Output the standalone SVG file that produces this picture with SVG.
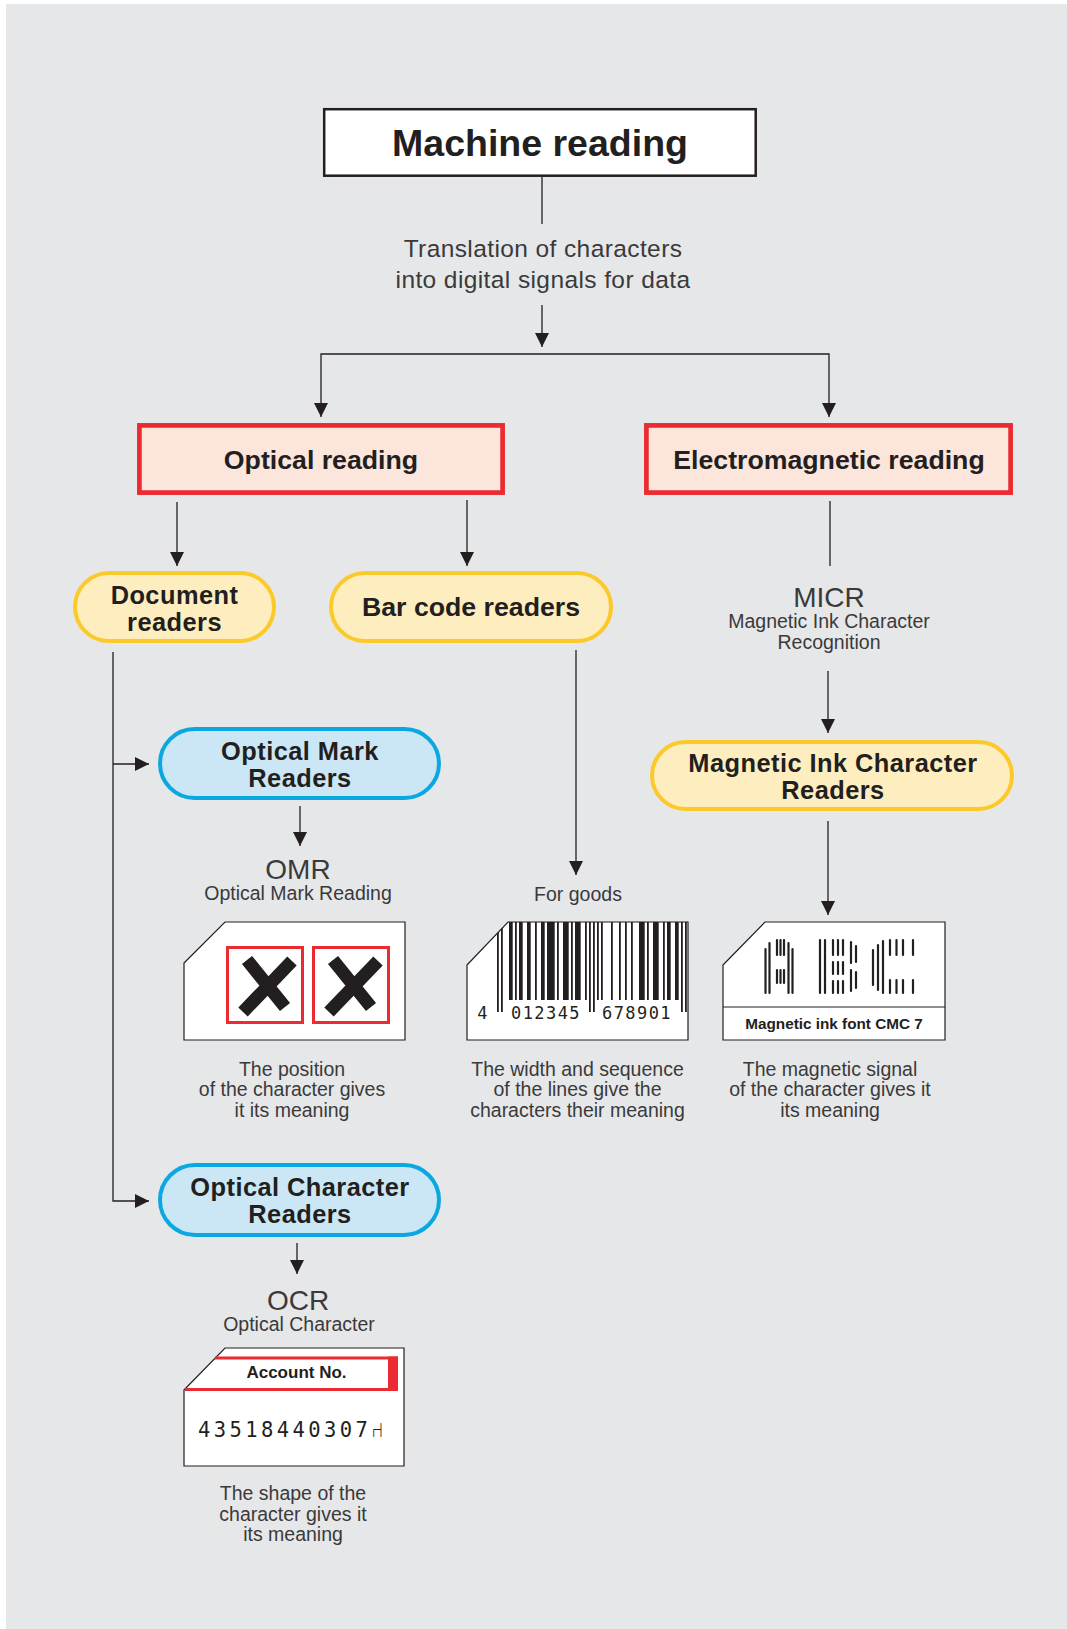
<svg xmlns="http://www.w3.org/2000/svg" width="1067" height="1629" viewBox="0 0 1067 1629">
<style>
.ln{fill:none;stroke:#231f20;stroke-width:1.3}
.lbl{font-family:"Liberation Sans",Arial,Helvetica,sans-serif;font-weight:bold;font-size:26.7px;fill:#231f20;text-anchor:middle}
.lb2{font-family:"Liberation Sans",Arial,Helvetica,sans-serif;font-weight:bold;font-size:25.4px;letter-spacing:0.45px;fill:#231f20;text-anchor:middle}
.lt{font-family:"Liberation Sans",Arial,Helvetica,sans-serif;font-size:19.5px;fill:#3a3a3a;text-anchor:middle}
.ab{font-family:"Liberation Sans",Arial,Helvetica,sans-serif;font-size:28px;fill:#3a3a3a;text-anchor:middle}
.tr{font-family:"Liberation Sans",Arial,Helvetica,sans-serif;font-size:24.5px;letter-spacing:0.4px;fill:#3a3a3a;text-anchor:middle}
.red{fill:#fce6dc;stroke:#ec2a31;stroke-width:4.7}
.yel{fill:#feedbf;stroke:#fcc92b;stroke-width:4}
.blu{fill:#cbe7f5;stroke:#0ba7e0;stroke-width:4}
.card{fill:#fff;stroke:#231f20;stroke-width:1.2}
.bar{fill:#231f20}
.cmc{fill:none;stroke:#231f20;stroke-width:2.2;stroke-linecap:round}
.xm{fill:none;stroke:#231f20;stroke-width:13;stroke-linecap:butt}
</style>
<defs>
<marker id="ah" viewBox="0 0 14 14" refX="14" refY="7" markerWidth="14" markerHeight="14" markerUnits="userSpaceOnUse" orient="auto">
<path d="M0,0 L14,7 L0,14 z" fill="#231f20"/>
</marker>
<clipPath id="bcClip"><polygon points="467,965 508,922 688,922 688,1040 467,1040"/></clipPath>
</defs>
<rect x="0" y="0" width="1067" height="1629" fill="#ffffff"/>
<rect x="6" y="4" width="1061" height="1625" fill="#e6e7e9"/>

<g id="connectors">
<path class="ln" d="M542,177 V224"/>
<path class="ln" d="M542,305 V347" marker-end="url(#ah)"/>
<path class="ln" d="M542,354 H321 V417" marker-end="url(#ah)"/>
<path class="ln" d="M542,354 H829 V417" marker-end="url(#ah)"/>
<path class="ln" d="M177,502 V566" marker-end="url(#ah)"/>
<path class="ln" d="M467,500 V566" marker-end="url(#ah)"/>
<path class="ln" d="M830,501 V566"/>
<path class="ln" d="M828,671 V733" marker-end="url(#ah)"/>
<path class="ln" d="M113,652 V1201 H149" marker-end="url(#ah)"/>
<path class="ln" d="M113,764 H149" marker-end="url(#ah)"/>
<path class="ln" d="M300,806 V846" marker-end="url(#ah)"/>
<path class="ln" d="M576,650 V875" marker-end="url(#ah)"/>
<path class="ln" d="M828,821 V915" marker-end="url(#ah)"/>
<path class="ln" d="M297,1243 V1274" marker-end="url(#ah)"/>
</g>

<g id="machine-reading">
<rect x="324.2" y="109.2" width="431.5" height="66.5" fill="#ffffff" stroke="#231f20" stroke-width="2.5"/>
<text x="540" y="156" class="lbl" style="font-size:37.5px">Machine reading</text>
</g>

<g id="translation-note">
<text x="543" y="257" class="tr">Translation of characters</text>
<text x="543" y="288" class="tr">into digital signals for data</text>
</g>

<g id="optical-reading">
<rect x="139.4" y="425.4" width="363.2" height="67.2" class="red"/>
<text x="321" y="469" class="lbl">Optical reading</text>
</g>

<g id="electromagnetic-reading">
<rect x="646.4" y="425.4" width="364.2" height="67.2" class="red"/>
<text x="829" y="469" class="lbl">Electromagnetic reading</text>
</g>

<g id="document-readers">
<rect x="75" y="573" width="199" height="68" rx="34" class="yel"/>
<text x="174.5" y="603.5" class="lb2">Document</text>
<text x="174.5" y="630.5" class="lb2">readers</text>
</g>

<g id="bar-code-readers">
<rect x="331" y="573" width="280" height="68" rx="34" class="yel"/>
<text x="471" y="616" class="lbl">Bar code readers</text>
</g>

<g id="micr-note">
<text x="829" y="607" class="ab">MICR</text>
<text x="829" y="628" class="lt">Magnetic Ink Character</text>
<text x="829" y="649" class="lt">Recognition</text>
</g>

<g id="optical-mark-readers">
<rect x="160" y="729" width="279" height="69" rx="34.5" class="blu"/>
<text x="300" y="760" class="lb2">Optical Mark</text>
<text x="300" y="787" class="lb2">Readers</text>
</g>

<g id="magnetic-ink-character-readers">
<rect x="652" y="742" width="360" height="67" rx="33.5" class="yel"/>
<text x="833" y="772" class="lb2">Magnetic Ink Character</text>
<text x="833" y="799" class="lb2">Readers</text>
</g>

<g id="omr-note">
<text x="298" y="878.5" class="ab">OMR</text>
<text x="298" y="900" class="lt">Optical Mark Reading</text>
</g>

<g id="for-goods-note">
<text x="578" y="901" class="lt">For goods</text>
</g>

<g id="omr-card">
<polygon points="184,963 225,922 405,922 405,1040 184,1040" class="card"/>
<rect x="227.5" y="947.5" width="75" height="75" fill="none" stroke="#ec2a31" stroke-width="3"/>
<rect x="313.5" y="947.5" width="75" height="75" fill="none" stroke="#ec2a31" stroke-width="3"/>
<path class="xm" d="M247,960 L285,1007 M292,961 L243,1012"/>
<path class="xm" d="M333,960 L371,1007 M378,961 L329,1012"/>
<text x="292" y="1076" class="lt">The position</text>
<text x="292" y="1096" class="lt">of the character gives</text>
<text x="292" y="1117" class="lt">it its meaning</text>
</g>

<g id="barcode-card">
<polygon points="467,965 508,922 688,922 688,1040 467,1040" class="card"/>
<g clip-path="url(#bcClip)">
<rect class="bar" x="497" y="922" width="1.8" height="90"/>
<rect class="bar" x="501" y="922" width="1.8" height="90"/>
<rect class="bar" x="509" y="922" width="3.7" height="78"/>
<rect class="bar" x="515" y="922" width="1.8" height="78"/>
<rect class="bar" x="519" y="922" width="3.7" height="78"/>
<rect class="bar" x="527" y="922" width="3.7" height="78"/>
<rect class="bar" x="535" y="922" width="1.8" height="78"/>
<rect class="bar" x="541" y="922" width="3.7" height="78"/>
<rect class="bar" x="547" y="922" width="7.7" height="78"/>
<rect class="bar" x="557" y="922" width="1.8" height="78"/>
<rect class="bar" x="563" y="922" width="5.7" height="78"/>
<rect class="bar" x="571" y="922" width="1.8" height="78"/>
<rect class="bar" x="575" y="922" width="5.7" height="78"/>
<rect class="bar" x="585" y="922" width="1.8" height="78"/>
<rect class="bar" x="589" y="922" width="1.8" height="90"/>
<rect class="bar" x="593" y="922" width="1.8" height="90"/>
<rect class="bar" x="597" y="922" width="1.8" height="78"/>
<rect class="bar" x="601" y="922" width="1.8" height="78"/>
<rect class="bar" x="611" y="922" width="1.8" height="78"/>
<rect class="bar" x="619" y="922" width="1.8" height="78"/>
<rect class="bar" x="625" y="922" width="1.8" height="78"/>
<rect class="bar" x="631" y="922" width="1.8" height="78"/>
<rect class="bar" x="639" y="922" width="5.7" height="78"/>
<rect class="bar" x="647" y="922" width="1.8" height="78"/>
<rect class="bar" x="653" y="922" width="5.7" height="78"/>
<rect class="bar" x="663" y="922" width="1.8" height="78"/>
<rect class="bar" x="667" y="922" width="3.7" height="78"/>
<rect class="bar" x="675" y="922" width="3.7" height="78"/>
<rect class="bar" x="681" y="922" width="1.8" height="90"/>
<rect class="bar" x="685" y="922" width="1.8" height="90"/>
</g>
<g font-family="'DejaVu Sans Mono','Liberation Mono',monospace" font-size="17" fill="#231f20" text-anchor="middle" letter-spacing="1.4">
<text x="483" y="1019">4</text>
<text x="546" y="1019">012345</text>
<text x="637" y="1019">678901</text>
</g>
<text x="577.5" y="1076" class="lt">The width and sequence</text>
<text x="577.5" y="1096" class="lt">of the lines give the</text>
<text x="577.5" y="1117" class="lt">characters their meaning</text>
</g>

<g id="micr-card">
<polygon points="723,965 765,922 945,922 945,1040 723,1040" class="card"/>
<line x1="723" y1="1007" x2="945" y2="1007" stroke="#231f20" stroke-width="1.2"/>
<path class="cmc" d="M765.5,949 V993 M769.5,943 V993 M777,940 V955 M777,970 V983 M780.5,940 V955 M780.5,970 V983 M784,940 V955 M784,970 V983 M788.5,943 V993 M792.5,949 V993"/>
<path class="cmc" d="M820,940 V993 M825,940 V993 M833,940 V955 M833,962 V974 M833,981 V993 M838,940 V955 M838,962 V974 M838,981 V993 M843,940 V955 M843,962 V974 M843,981 V993 M851,942 V963 M851,970 V991 M856,946 V962 M856,972 V988"/>
<path class="cmc" d="M873,950 V985 M878,945 V990 M883,941 V993 M890,940 V955 M890,980 V993 M896.5,940 V955 M896.5,980 V993 M903,940 V955 M903,980 V993 M913,940 V955 M913,980 V993"/>
<text x="834" y="1029" font-family="'Liberation Sans',Arial,Helvetica,sans-serif" font-weight="bold" font-size="15.3" fill="#231f20" text-anchor="middle">Magnetic ink font CMC 7</text>
<text x="830" y="1076" class="lt">The magnetic signal</text>
<text x="830" y="1096" class="lt">of the character gives it</text>
<text x="830" y="1117" class="lt">its meaning</text>
</g>

<g id="optical-character-readers">
<rect x="160" y="1165" width="279" height="70" rx="35" class="blu"/>
<text x="300" y="1196" class="lb2">Optical Character</text>
<text x="300" y="1223" class="lb2">Readers</text>
</g>

<g id="ocr-note">
<text x="298" y="1309.5" class="ab">OCR</text>
<text x="299" y="1331" class="lt">Optical Character</text>
</g>

<g id="ocr-card">
<polygon points="184,1390 225,1348 404,1348 404,1466 184,1466" class="card"/>
<line x1="215" y1="1358" x2="398" y2="1358" stroke="#ec2a31" stroke-width="3"/>
<line x1="185" y1="1389.5" x2="398" y2="1389.5" stroke="#ec2a31" stroke-width="3"/>
<rect x="388" y="1356.5" width="10" height="34.5" fill="#ec2a31"/>
<text x="296.5" y="1378" font-family="'Liberation Sans',Arial,Helvetica,sans-serif" font-weight="bold" font-size="17" fill="#231f20" text-anchor="middle">Account No.</text>
<text x="198" y="1437" font-family="'DejaVu Sans Mono','DejaVu Sans',monospace" font-size="20.5" letter-spacing="3.4" fill="#231f20">43518440307⑁</text>
<text x="293" y="1500" class="lt">The shape of the</text>
<text x="293" y="1521" class="lt">character gives it</text>
<text x="293" y="1541" class="lt">its meaning</text>
</g>
</svg>
